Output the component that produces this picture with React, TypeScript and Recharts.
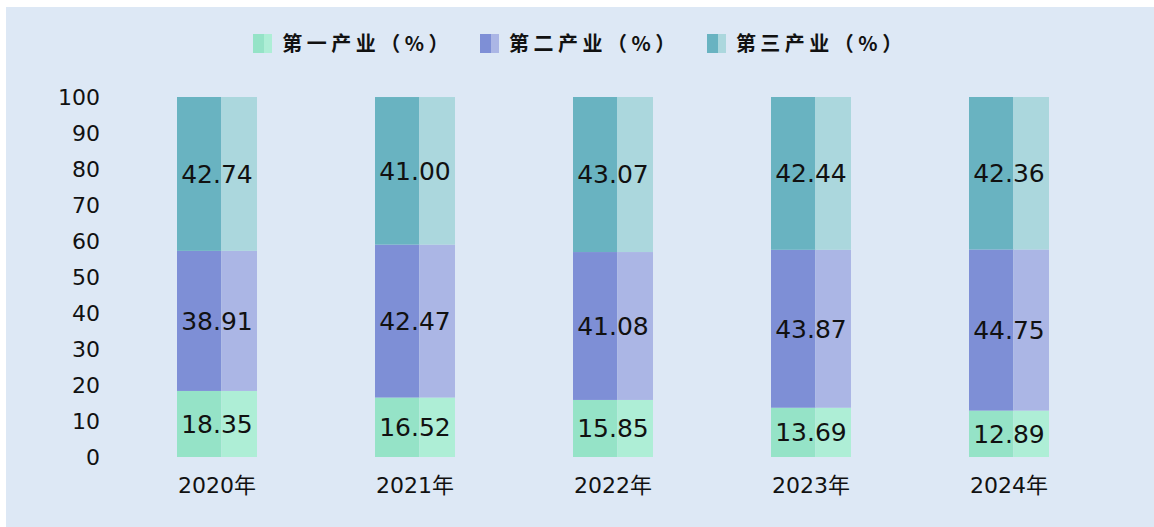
import React from "react";
import { BarChart, Bar, XAxis, YAxis, Legend, LabelList } from "recharts";

const categories = ["2020年", "2021年", "2022年", "2023年", "2024年"];
const primary = [18.35, 16.52, 15.85, 13.69, 12.89];
const secondary = [38.91, 42.47, 41.08, 43.87, 44.75];
const tertiary = [42.74, 41.0, 43.07, 42.44, 42.36];
const yTicks = [0, 10, 20, 30, 40, 50, 60, 70, 80, 90, 100];

const seriesNames = ["第一产业（%）", "第二产业（%）", "第三产业（%）"];
const darkColors = ["#95e3c7", "#7e8fd6", "#69b3c1"];
const lightColors = ["#aeeed6", "#abb6e5", "#abd7dd"];
const keys = ["p", "s", "t"];

const data = categories.map((c, i) => ({
  name: c,
  p: primary[i],
  s: secondary[i],
  t: tertiary[i],
}));

const BG = "#dde8f5";

function makeShape(idx: number) {
  return (props: any) => {
    const { x, y, width, height } = props;
    if (!height || height <= 0) return <g />;
    const dw = width * 0.555;
    return (
      <g>
        <rect x={x} y={y} width={dw} height={height} fill={darkColors[idx]} />
        <rect x={x + dw} y={y} width={width - dw} height={height} fill={lightColors[idx]} />
      </g>
    );
  };
}

const LegendContent = () => (
  <div
    style={{
      display: "flex",
      justifyContent: "center",
      alignItems: "center",
      gap: 27,
      width: "100%",
    }}
  >
    {seriesNames.map((n, i) => (
      <div key={n} style={{ display: "flex", alignItems: "center" }}>
        <div style={{ display: "flex", width: 19, height: 19, marginRight: 10 }}>
          <div style={{ width: 11, height: 19, background: darkColors[i] }} />
          <div style={{ width: 8, height: 19, background: lightColors[i] }} />
        </div>
        <span
          style={{
            fontFamily: "'Noto Sans CJK SC', sans-serif",
            fontSize: 20,
            fontWeight: 700,
            letterSpacing: 4.5,
            color: "#111",
            lineHeight: "20px",
            whiteSpace: "nowrap",
          }}
        >
          {n}
        </span>
      </div>
    ))}
  </div>
);

export default function App() {
  return (
    <>
      <style>{`html,body{background:${BG};}`}</style>
      <div style={{ position: "fixed", left: 0, top: 0, width: 6, height: 2000, background: "#fff" }} />
      <div style={{ position: "fixed", left: 0, top: 0, width: 3000, height: 7, background: "#fff" }} />
      <div
        style={{
          position: "fixed",
          left: 6,
          top: 7,
          width: 1148,
          height: 520,
          background: BG,
        }}
      >
        <BarChart
          width={1148}
          height={520}
          data={data}
          margin={{ top: 90, right: 46, bottom: 30, left: 0 }}
          barSize={80}
        >
          <XAxis
            dataKey="name"
            axisLine={false}
            tickLine={false}
            tickSize={0}
            tickMargin={20}
            height={40}
            tick={{ fill: "#111", fontSize: 22, fontFamily: "'DejaVu Sans', 'Noto Sans CJK SC', sans-serif" }}
          />
          <YAxis
            domain={[0, 100]}
            ticks={yTicks}
            interval={0}
            axisLine={false}
            tickLine={false}
            tickSize={0}
            tickMargin={18}
            width={112}
            tick={{ fill: "#111", fontSize: 22, fontFamily: "'DejaVu Sans', sans-serif" }}
          />
          <Legend
            verticalAlign="middle"
            align="center"
            layout="horizontal"
            wrapperStyle={{ top: 26, left: 0, width: 1148, height: 20 }}
            content={<LegendContent />}
          />
          {keys.map((k, i) => (
            <Bar
              key={k}
              dataKey={k}
              name={seriesNames[i]}
              stackId="a"
              fill={darkColors[i]}
              shape={makeShape(i)}
              isAnimationActive={false}
            >
              <LabelList
                dataKey={k}
                position="center"
                formatter={(v: any) => Number(v).toFixed(2)}
                style={{ fill: "#111", fontSize: 25, fontFamily: "'DejaVu Sans', sans-serif" }}
              />
            </Bar>
          ))}
        </BarChart>
      </div>
    </>
  );
}
